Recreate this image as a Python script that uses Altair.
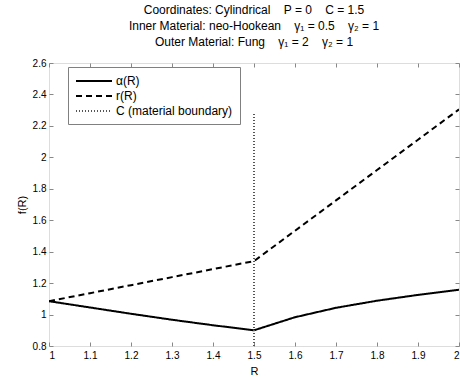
import altair as alt
import pandas as pd

R = [1.0, 1.1, 1.2, 1.3, 1.4, 1.5, 1.6, 1.7, 1.8, 1.9, 2.0]
alpha = [1.085, 1.045, 1.005, 0.967, 0.932, 0.900, 0.983, 1.043, 1.088, 1.125, 1.158]
r = [1.085, 1.136, 1.187, 1.238, 1.289, 1.340, 1.533, 1.726, 1.919, 2.112, 2.305]
boundary_R = [1.5, 1.5]
boundary_f = [0.8, 2.28]

series_names = ["α(R)", "r(R)", "C (material boundary)"]
x_ticks = [1.0, 1.1, 1.2, 1.3, 1.4, 1.5, 1.6, 1.7, 1.8, 1.9, 2.0]
y_ticks = [0.8, 1.0, 1.2, 1.4, 1.6, 1.8, 2.0, 2.2, 2.4, 2.6]
S = "\u00a0\u00a0\u00a0\u00a0"
title_lines = [
    "Coordinates: Cylindrical" + S + "P = 0" + S + "C = 1.5",
    "Inner Material: neo-Hookean" + S + "γ₁ = 0.5" + S + "γ₂ = 1",
    "Outer Material: Fung" + S + "γ₁ = 2" + S + "γ₂ = 1",
]

rows = []
for i, (x, v) in enumerate(zip(R, alpha)):
    rows.append({"R": x, "f": v, "series": series_names[0], "idx": i})
for i, (x, v) in enumerate(zip(R, r)):
    rows.append({"R": x, "f": v, "series": series_names[1], "idx": i})
for i, (x, v) in enumerate(zip(boundary_R, boundary_f)):
    rows.append({"R": x, "f": v, "series": series_names[2], "idx": i})
df = pd.DataFrame(rows)

FONT = "Liberation Sans"

xscale = alt.Scale(domain=[1, 2], nice=False, zero=False)
yscale = alt.Scale(domain=[0.8, 2.6], nice=False, zero=False)

leg = dict(title=None, orient="none", legendX=19, legendY=4,
           symbolType="M-1,0H5", symbolSize=144,
           strokeColor="#808080", fillColor="white",
           padding=7, rowPadding=2, labelFontSize=12,
           labelFont=FONT, labelOffset=27, labelColor="#000")

lines = alt.Chart(df).mark_line(clip=True).encode(
    x=alt.X("R:Q", scale=xscale,
            axis=alt.Axis(orient="bottom", values=x_ticks, format="~g", offset=-4,
                          tickSize=4, domain=False, labelPadding=4, titlePadding=5,
                          grid=False, title="R", titleFontWeight="normal")),
    y=alt.Y("f:Q", scale=yscale,
            axis=alt.Axis(orient="left", values=y_ticks, format="~g", offset=-4,
                          tickSize=4, domain=False, labelPadding=3, titlePadding=5,
                          grid=False, title="f(R)", titleFontWeight="normal")),
    color=alt.Color("series:N", scale=alt.Scale(domain=series_names,
                                                range=["#000000", "#000000", "#555555"]),
                    legend=alt.Legend(**leg)),
    strokeDash=alt.StrokeDash("series:N", scale=alt.Scale(domain=series_names,
                                                          range=[[1, 0], [6, 4], [1, 2]]),
                              legend=alt.Legend(**leg)),
    strokeWidth=alt.StrokeWidth("series:N", scale=alt.Scale(domain=series_names,
                                                            range=[2, 2, 1]),
                                legend=alt.Legend(**leg)),
    order="idx:Q",
    detail="series:N",
)

frame = alt.Chart(df).mark_point(opacity=0).encode(
    x=alt.X("R:Q", scale=xscale, title=None,
            axis=alt.Axis(orient="top", values=x_ticks, offset=-4, tickSize=4,
                          domain=False, labels=False, grid=False)),
    y=alt.Y("f:Q", scale=yscale, title=None,
            axis=alt.Axis(orient="right", values=y_ticks, offset=-4, tickSize=4,
                          domain=False, labels=False, grid=False)),
)

chart = alt.layer(lines, frame).resolve_axis(x="independent", y="independent").properties(
    width=410, height=283,
    title=alt.Title(text=title_lines, fontSize=12, fontWeight="normal", font=FONT,
                    lineHeight=16, anchor="middle", offset=9, color="#000"),
    autosize=alt.AutoSizeParams(type="none"),
    padding={"left": 49, "top": 63, "right": 1, "bottom": 34},
).configure_view(stroke="#000000", strokeWidth=1).configure_axis(
    labelFont=FONT, titleFont=FONT, labelFontSize=10, titleFontSize=11,
    tickColor="#000", labelColor="#000", titleColor="#000", titleFontWeight="normal",
).configure(background="white")

chart.save("out.html", embed_options={"renderer": "svg", "actions": False})
